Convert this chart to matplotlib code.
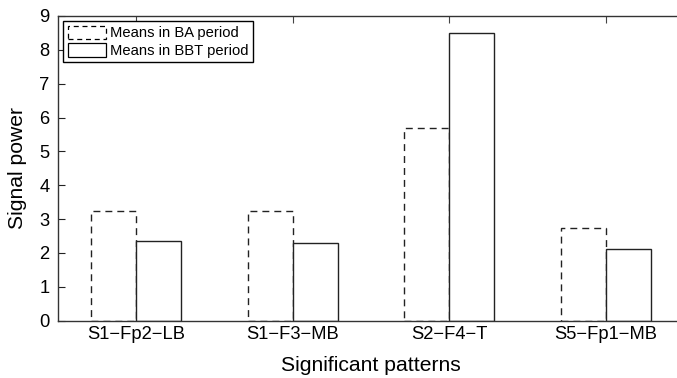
import matplotlib
matplotlib.use("Agg")
import matplotlib.pyplot as plt
import numpy as np
from matplotlib.patches import Patch

plt.rcParams['font.family'] = ['Liberation Sans', 'DejaVu Sans']

categories = ["S1\u2212Fp2\u2212LB", "S1\u2212F3\u2212MB", "S2\u2212F4\u2212T", "S5\u2212Fp1\u2212MB"]
ba_means = [3.25, 3.25, 5.68, 2.74]
bbt_means = [2.36, 2.29, 8.49, 2.13]
series_labels = ["Means in BA period", "Means in BBT period"]

fig = plt.figure(figsize=(6.77, 3.78), dpi=100)
ax = fig.add_axes([0.0857, 0.1516, 0.9246, 0.8061])

x = np.arange(1, len(categories) + 1)
w = 0.287
edge = '#222222'
dash = (0, (5, 3.6))
ax.bar(x - w / 2, ba_means, width=w, facecolor='white', edgecolor=edge,
       linewidth=1.0, linestyle=dash, zorder=2)
ax.bar(x + w / 2, bbt_means, width=w, facecolor='white', edgecolor=edge,
       linewidth=1.0, linestyle='-', zorder=2)

ax.set_xlim(0.5, 4.5)
ax.set_ylim(0, 9)
ax.set_xticks(x)
ax.set_xticklabels(categories, fontsize=13.2)
ax.set_yticks(range(0, 10))
ax.tick_params(axis='y', labelsize=13.2, direction='in', length=5, width=0.8,
               colors='#222222', labelcolor='black', pad=6)
ax.tick_params(axis='x', direction='in', length=5, width=0.8, top=True,
               colors='#444444', labelcolor='black', pad=4)
ax.spines['right'].set_visible(False)
for s in ax.spines.values():
    s.set_color('#333333')
    s.set_linewidth(1.0)

ax.set_xlabel("Significant patterns", fontsize=15.2, labelpad=9)
ax.set_ylabel("Signal power", fontsize=15.2, labelpad=9)

handles = [Patch(facecolor='white', edgecolor='black', linestyle=(0, (4, 3)), linewidth=0.9),
           Patch(facecolor='white', edgecolor='black', linestyle='-', linewidth=0.9)]
leg = ax.legend(handles, series_labels, loc='upper left', fontsize=10.6,
                frameon=True, fancybox=False, framealpha=1, edgecolor='black',
                borderpad=0.3, handlelength=2.6, handleheight=1.0,
                handletextpad=0.3, labelspacing=0.22, borderaxespad=0.35)
leg.get_frame().set_linewidth(1.0)

fig.savefig("out.png", dpi=100)
